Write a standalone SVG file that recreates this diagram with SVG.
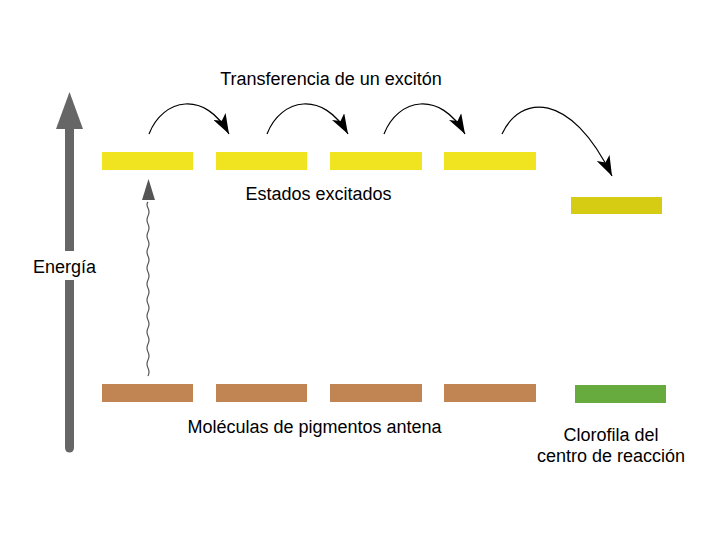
<svg xmlns="http://www.w3.org/2000/svg" width="720" height="540" viewBox="0 0 720 540">
<style>
text{font-family:"Liberation Sans",Arial,sans-serif;font-size:18px;fill:#000}
.y{fill:#f0e320}.b{fill:#c08552}
.c{fill:none;stroke:#000;stroke-width:1.2}
</style>
<defs>
<marker id="ah" viewBox="0 0 20 14" refX="20" refY="7" markerWidth="20" markerHeight="14" markerUnits="userSpaceOnUse" orient="auto">
<path d="M0,0 L20,7 L0,14 L5,7 Z" fill="#000"/>
</marker>
</defs>
<rect width="720" height="540" fill="#fff"/>
<g id="energia">
<line x1="69.5" y1="448" x2="69.5" y2="126" stroke="#666" stroke-width="9" stroke-linecap="round"/>
<polygon points="56,129 83,129 69.5,92" fill="#666"/>
<rect x="30" y="251" width="70" height="29" fill="#fff"/>
<text x="33" y="273">Energía</text>
</g>
<g id="excitados">
<rect class="y" x="102" y="152" width="91" height="18"/>
<rect class="y" x="216" y="152" width="91" height="18"/>
<rect class="y" x="330" y="152" width="92" height="18"/>
<rect class="y" x="444" y="152" width="92" height="18"/>
<text x="318.5" y="200" text-anchor="middle">Estados excitados</text>
</g>
<g id="antena">
<rect class="b" x="102" y="384" width="91" height="18"/>
<rect class="b" x="216" y="384" width="91" height="18"/>
<rect class="b" x="330" y="384" width="92" height="18"/>
<rect class="b" x="444" y="384" width="92" height="18"/>
<text x="314.5" y="433" text-anchor="middle">Moléculas de pigmentos antena</text>
</g>
<g id="centro">
<rect x="571" y="197" width="91" height="17" fill="#d6cc14"/>
<rect x="575" y="385" width="91" height="18" fill="#67aa3e"/>
<text x="611" y="441" text-anchor="middle">Clorofila del</text>
<text x="611" y="462" text-anchor="middle">centro de reacción</text>
</g>
<g id="titulo">
<text x="331" y="85" text-anchor="middle">Transferencia de un excitón</text>
</g>
<g id="connectors">
<path class="c" d="M149,134 C163,98 205,90 229,134" marker-end="url(#ah)"/>
<path class="c" d="M267,134 C281,98 323,90 348,134" marker-end="url(#ah)"/>
<path class="c" d="M384,134 C398,98 440,90 465,134" marker-end="url(#ah)"/>
<path class="c" d="M502,134 C520,95 570,90 612,176" marker-end="url(#ah)"/>
<path d="M148,376 q2,-4 0,-8 t0,-8 t0,-8 t0,-8 t0,-8 t0,-8 t0,-8 t0,-8 t0,-8 t0,-8 t0,-8 t0,-8 t0,-8 t0,-8 t0,-8 t0,-8 t0,-8 t0,-8 t0,-8 t0,-8 t0,-8 t0,-6" fill="none" stroke="#555" stroke-width="1.2"/>
<polygon points="142,200 155,200 148.5,179" fill="#555"/>
</g>
</svg>
